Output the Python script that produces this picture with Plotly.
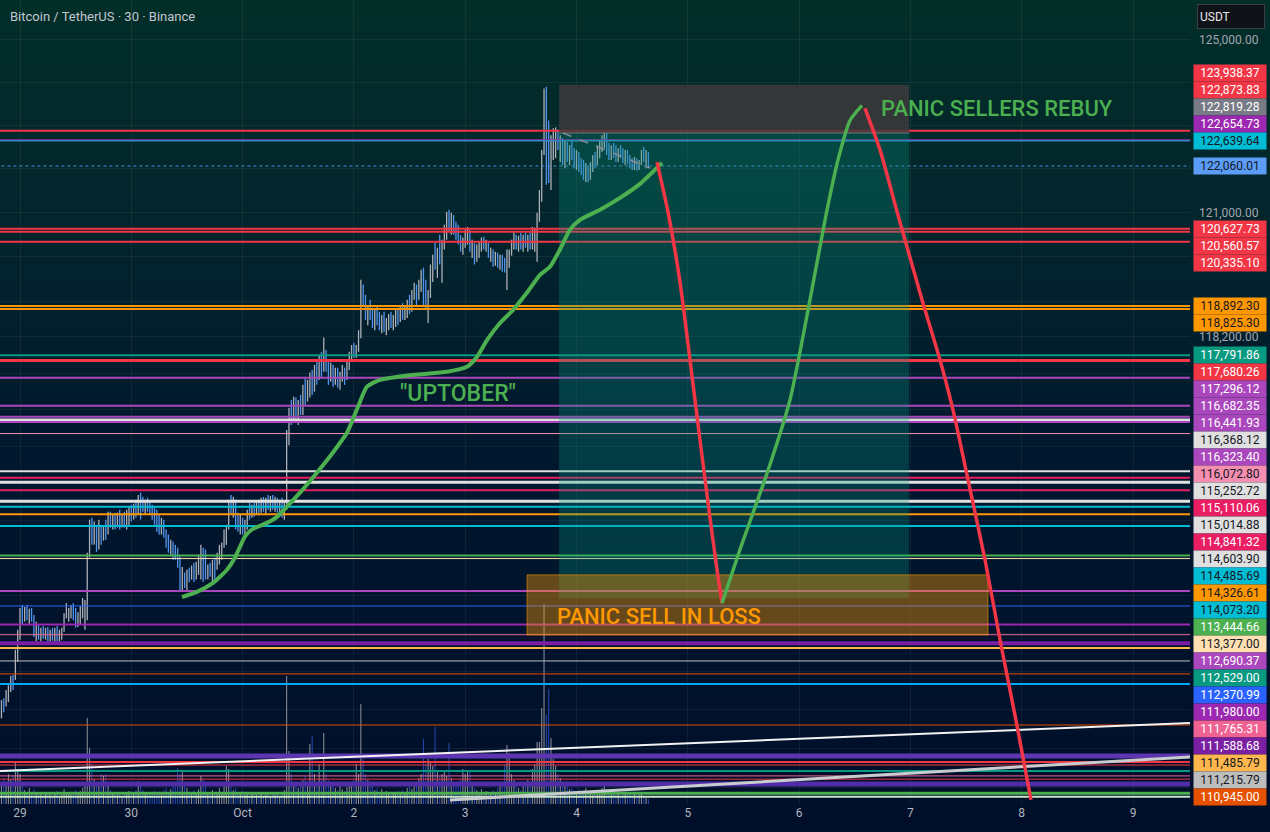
import math
import pandas as pd
import plotly.graph_objects as go

# ---------------- time helpers ----------------
T0 = pd.Timestamp("2025-09-29 00:00")


def at(d):
    return T0 + pd.Timedelta(days=float(d))


# ---------------- candles (30 min, BTCUSDT) ----------------
candle_start = "2025-09-28 20:00"
first_open = 110100
highs = [
    110400, 110440, 110610, 110710, 110900, 110920, 111450, 111870, 112330, 112390,
    112350, 112390, 112310, 112330, 112180, 112040, 111970, 111910, 111950, 111910,
    111930, 111870, 111910, 111910, 111950, 111870, 111910, 112220, 112430, 112330,
    112390, 112430, 112330, 112240, 112370, 112540, 112500, 113500, 114210, 114250,
    114170, 114100, 114210, 114100, 114060, 114210, 114380, 114380, 114320, 114360,
    114360, 114420, 114320, 114380, 114420, 114490, 114530, 114550, 114640, 114740,
    114790, 114700, 114640, 114680, 114590, 114530, 114470, 114420, 114320, 114250,
    114210, 114000, 113890, 113780, 113740, 113670, 113610, 113420, 113200, 113080,
    113140, 113180, 113230, 113290, 113310, 113460, 113670, 113610, 113570, 113250,
    113290, 113350, 113400, 113500, 113670, 113720, 114000, 114100, 114640, 114740,
    114700, 114640, 114360, 114320, 114250, 114210, 114420, 114570, 114530, 114570,
    114590, 114640, 114680, 114700, 114680, 114740, 114720, 114740, 114700, 114680,
    114640, 114680, 114590, 116150, 116640, 116810, 116880, 116860, 116810, 116920,
    117140, 117300, 117250, 117410, 117470, 117580, 117690, 117800, 117870, 118190,
    117910, 117690, 117630, 117580, 117520, 117520, 117430, 117580, 117520, 117650,
    117870, 118020, 118070, 118020, 118350, 119480, 119370, 119140, 118910, 119030,
    118850, 118800, 118910, 118760, 118690, 118760, 118620, 118710, 118760, 118690,
    118800, 118850, 118910, 118960, 118910, 119030, 119140, 119250, 119410, 119370,
    119480, 119700, 119750, 119480, 119250, 119820, 120040, 120310, 120200, 120490,
    120380, 120720, 121010, 121060, 120990, 120940, 120790, 120720, 120490, 120430,
    120610, 120670, 120610, 120380, 120310, 120270, 120340, 120430, 120450, 120380,
    120310, 120200, 120160, 120110, 120090, 120040, 120040, 119970, 120160, 120160,
    120380, 120540, 120490, 120470, 120540, 120490, 120540, 120490, 120540, 120670,
    120650, 120990, 121510, 122430, 123850, 123890, 123110, 122770, 122930, 122950,
    122880, 122770, 122700, 122650, 122610, 122540, 122650, 122470, 122430, 122380,
    122240, 122200, 122130, 122080, 122150, 122310, 122380, 122540, 122650, 122770,
    122840, 122820, 122590, 122540, 122590, 122540, 122470, 122540, 122470, 122430,
    122430, 122310, 122240, 122270, 122240, 122200, 122430, 122500, 122430, 122380,
]
lows = [
    110020, 110150, 110270, 110360, 110570, 110610, 110820, 111200, 111660, 111970,
    112040, 112070, 111990, 112040, 111720, 111620, 111660, 111620, 111680, 111660,
    111620, 111620, 111640, 111620, 111620, 111620, 111660, 111830, 112110, 112040,
    112110, 112070, 111910, 111930, 111970, 112110, 111870, 112070, 113400, 113670,
    113670, 113520, 113570, 113670, 113760, 113780, 113890, 114040, 114000, 114000,
    114040, 114000, 114040, 114040, 114000, 114060, 114170, 114210, 114250, 114320,
    114210, 114380, 114320, 114380, 114320, 114210, 114100, 113950, 113890, 113890,
    113820, 113610, 113500, 113460, 113350, 113350, 113180, 112710, 112670, 112750,
    112710, 112880, 112930, 112880, 112930, 113030, 112930, 112880, 112930, 112930,
    112990, 112820, 112880, 113140, 113250, 113350, 113610, 113670, 114000, 114320,
    114250, 114000, 113950, 113890, 113890, 113890, 114000, 114210, 114250, 114270,
    114320, 114300, 114360, 114380, 114320, 114420, 114380, 114420, 114380, 114360,
    114320, 114250, 114210, 114420, 115820, 116260, 116330, 116370, 116260, 116480,
    116480, 116700, 116770, 116860, 116920, 116990, 117140, 117250, 117300, 117430,
    117430, 117140, 117210, 117100, 117140, 117080, 117030, 117210, 117140, 117250,
    117470, 117690, 117740, 117740, 117870, 118170, 118910, 118580, 118460, 118580,
    118400, 118350, 118460, 118350, 118280, 118310, 118240, 118350, 118400, 118350,
    118420, 118460, 118530, 118580, 118580, 118620, 118710, 118760, 119030, 118910,
    119030, 119210, 118910, 118800, 118510, 119070, 119430, 119700, 119520, 119820,
    119410, 120160, 120380, 120560, 120490, 120490, 120380, 120270, 120110, 120040,
    120200, 120270, 120110, 119970, 119820, 119880, 119970, 120110, 120160, 120110,
    119970, 119880, 119770, 119790, 119750, 119700, 119660, 119640, 119250, 119750,
    120020, 120160, 120160, 120110, 120160, 120110, 120200, 120110, 120160, 120160,
    120110, 119880, 120790, 121240, 122310, 121630, 121670, 121510, 122200, 122240,
    122430, 122150, 122080, 122010, 122150, 122080, 122200, 122010, 121970, 121920,
    121850, 121740, 121690, 121690, 121740, 121920, 122010, 122080, 122240, 122380,
    122470, 122310, 122200, 122200, 122240, 122150, 122150, 122240, 122130, 122080,
    122110, 122010, 121970, 121970, 121950, 121970, 122080, 122150, 122010, 122010,
]
closes = [
    110340, 110230, 110570, 110610, 110820, 110710, 111340, 111760, 112240, 112070,
    112280, 112180, 112240, 112090, 111810, 111930, 111720, 111870, 111810, 111870,
    111700, 111830, 111660, 111870, 111700, 111780, 111850, 112160, 112240, 112260,
    112310, 112200, 111990, 112160, 112330, 112410, 112460, 113400, 114100, 113780,
    114040, 113670, 114060, 113780, 113950, 113890, 114300, 114170, 114250, 114100,
    114270, 114170, 114230, 114100, 114340, 114420, 114250, 114490, 114380, 114680,
    114530, 114470, 114550, 114510, 114420, 114320, 114210, 114170, 114000, 114120,
    113910, 113780, 113570, 113670, 113440, 113400, 113250, 112800, 113030, 112820,
    113100, 113030, 113140, 112970, 113250, 113350, 113570, 113030, 112970, 113180,
    113100, 113290, 113230, 113440, 113610, 113670, 113930, 114040, 114530, 114420,
    114590, 114100, 114040, 114210, 114000, 114120, 114380, 114320, 114470, 114380,
    114510, 114380, 114590, 114470, 114640, 114530, 114660, 114490, 114640, 114420,
    114570, 114340, 114510, 116040, 116480, 116370, 116700, 116550, 116720, 116590,
    117030, 116860, 117140, 117300, 117030, 117470, 117300, 117650, 117470, 118020,
    117520, 117250, 117470, 117190, 117430, 117140, 117300, 117520, 117250, 117580,
    117800, 117910, 117820, 117960, 118240, 119250, 119030, 118690, 118800, 118620,
    118530, 118710, 118580, 118440, 118620, 118400, 118530, 118640, 118460, 118620,
    118710, 118580, 118820, 118670, 118870, 118940, 118800, 119140, 119300, 119030,
    119370, 119590, 119030, 118910, 119140, 119700, 119970, 119820, 120110, 119930,
    120270, 120610, 120880, 120720, 120880, 120610, 120490, 120380, 120160, 120340,
    120490, 120610, 120200, 120290, 119930, 120160, 120250, 120380, 120220, 120310,
    120040, 120110, 119860, 120020, 119820, 119970, 119750, 119700, 120040, 120090,
    120270, 120430, 120270, 120380, 120250, 120430, 120310, 120380, 120220, 120270,
    120560, 120880, 121400, 122360, 123690, 122200, 121970, 122540, 122650, 122770,
    122540, 122650, 122200, 122540, 122240, 122430, 122310, 122150, 122310, 122010,
    121920, 121830, 122010, 121790, 122080, 122240, 122150, 122470, 122540, 122650,
    122750, 122430, 122310, 122470, 122360, 122240, 122430, 122310, 122200, 122380,
    122150, 122080, 122040, 122200, 122010, 122150, 122380, 122200, 122310, 122060.01,
]
volumes = [
    500, 650, 550, 750, 625, 700, 1075, 875, 750, 450,
    350, 300, 400, 250, 375, 300, 225, 275, 200, 250,
    300, 225, 175, 250, 325, 200, 225, 375, 300, 250,
    225, 300, 350, 250, 325, 400, 550, 2150, 1400, 1000,
    625, 500, 450, 750, 700, 750, 450, 350, 300, 250,
    225, 275, 200, 300, 250, 325, 225, 275, 350, 575,
    450, 350, 250, 300, 225, 275, 325, 250, 300, 225,
    350, 400, 300, 375, 500, 450, 900, 750, 850, 550,
    400, 300, 250, 350, 300, 375, 700, 650, 550, 300,
    250, 350, 300, 250, 400, 300, 550, 950, 875, 500,
    350, 400, 300, 250, 325, 225, 275, 200, 250, 300,
    225, 200, 275, 175, 225, 250, 200, 300, 225, 250,
    200, 275, 350, 3200, 1325, 750, 550, 450, 400, 500,
    600, 700, 550, 1500, 1700, 750, 550, 1000, 650, 1775,
    750, 600, 450, 500, 400, 350, 450, 375, 325, 425,
    550, 450, 600, 1000, 750, 2500, 1125, 750, 600, 500,
    450, 350, 400, 300, 375, 250, 325, 275, 225, 300,
    250, 325, 275, 350, 300, 400, 450, 375, 500, 550,
    650, 750, 1625, 1000, 1125, 1050, 950, 1925, 800, 700,
    750, 850, 700, 1525, 650, 550, 450, 500, 625, 875,
    750, 800, 850, 450, 400, 350, 300, 375, 275, 325,
    300, 250, 350, 275, 400, 450, 550, 1000, 1475, 1275,
    750, 600, 450, 400, 350, 450, 500, 600, 550, 875,
    1000, 1550, 1550, 2400, 5000, 2225, 2875, 1650, 1125, 950,
    750, 650, 550, 500, 450, 375, 400, 350, 300, 375,
    325, 300, 400, 250, 300, 225, 275, 350, 300, 400,
    450, 375, 300, 250, 325, 225, 275, 200, 250, 300,
    225, 275, 200, 250, 175, 225, 275, 200, 150, 125,
]

# ---------------- horizontal levels (with price-scale labels) ----------------
level_prices = [122873.83, 122654.73, 122639.64, 120627.73, 120560.57, 120335.10,
                118892.30, 118825.30, 117791.86, 117680.26, 117296.12, 116682.35,
                116441.93, 116368.12, 116323.40, 116072.80, 115252.72, 115110.06,
                115014.88, 114841.32, 114603.90, 114485.69, 114326.61, 114073.20,
                113444.66, 113377.00, 112690.37, 112370.99, 111980.00, 111765.31,
                111588.68, 111485.79, 111215.79, 110945.00]
level_colors = ["#f23645", "#9c27b0", "#00bcd4", "#f23645", "#f23645", "#f23645",
                "#ff9800", "#ff9800", "#089981", "#f23645", "#ab47bc", "#ab47bc",
                "#ab47bc", "#e0e0e0", "#ab47bc", "#f48fb1", "#e0e0e0", "#e91e63",
                "#e0e0e0", "#e91e63", "#e0e0e0", "#00bcd4", "#ff9800", "#00bcd4",
                "#4caf50", "#ffe0b2", "#ab47bc", "#2962ff", "#9c27b0", "#f06292",
                "#7b1fa2", "#ffb74d", "#bdbdbd", "#e65100"]
level_widths = [2, 2, 1, 2, 2, 2,
                2, 2, 2, 3, 2, 2,
                2, 3, 2, 1, 2, 2,
                3, 2, 3, 2, 2, 2,
                2, 1, 2, 1, 2, 1,
                4, 2, 1, 1]

# unlabeled levels near the bottom of the pane
extra_prices = [110735, 109885, 109247, 109122, 109061, 108938, 108838, 108772, 108672, 108486, 108411]
extra_colors = ["#03a9f4", "#e65100", "#5e35b1", "#f23645", "#f23645", "#089981",
                "#f06292", "#f23645", "#512da8", "#4caf50", "#c8e6c9"]
extra_widths = [2, 1, 5, 2, 1, 2, 1, 1, 5, 3, 2]

# price-scale labels
label_prices = [123938.37, 122873.83, 122819.28, 122654.73, 122639.64, 122060.01,
                120627.73, 120560.57, 120335.10, 118892.30, 118825.30, 117791.86,
                117680.26, 117296.12, 116682.35, 116441.93, 116368.12, 116323.40,
                116072.80, 115252.72, 115110.06, 115014.88, 114841.32, 114603.90,
                114485.69, 114326.61, 114073.20, 113444.66, 113377.00, 112690.37,
                112529.00, 112370.99, 111980.00, 111765.31, 111588.68, 111485.79,
                111215.79, 110945.00]
label_bg = ["#f23645", "#f23645", "#787b86", "#9c27b0", "#00bcd4", "#5b9cf6",
            "#f23645", "#f23645", "#f23645", "#ff9800", "#ff9800", "#089981",
            "#f23645", "#ab47bc", "#ab47bc", "#ab47bc", "#e0e0e0", "#ab47bc",
            "#f48fb1", "#e0e0e0", "#e91e63", "#e0e0e0", "#e91e63", "#e0e0e0",
            "#00bcd4", "#ff9800", "#00bcd4", "#4caf50", "#ffe0b2", "#ab47bc",
            "#089981", "#2962ff", "#9c27b0", "#f06292", "#7b1fa2", "#ffb74d",
            "#bdbdbd", "#e65100"]
dark_text_bg = {"#00bcd4", "#5b9cf6", "#ff9800", "#e0e0e0", "#f48fb1", "#ffe0b2",
                "#ffb74d", "#bdbdbd"}
current_price = 122060.01

# price axis ticks (gridlines)
grid_prices = [108600, 109400, 110200, 111000, 111800, 112600, 113400, 114200, 115000,
               115800, 116600, 117400, 118200, 119000, 120000, 121000, 122000, 123000,
               124000, 125000]
shown_ticks = {125000: "125,000.00", 121000: "121,000.00", 118200: "118,200.00"}
day_ticks = list(range(0, 11))
day_text = ["29", "30", "Oct", "2", "3", "4", "5", "6", "7", "8", "9"]

# ---------------- drawings ----------------
# short position tool
pos_days = [4.8428, 7.9874]
pos_entry, pos_stop, pos_target = 122819.28, 123938.37, 112529.00
trace_days = [4.8787, 5.6604]
trace_prices = [122819, 122014]
# orange zone
zone_days = [4.5553, 8.6972]
zone_prices = [113030, 111760]

uptober_days = [1.4555, 1.5903, 1.7341, 1.8598, 1.9317, 1.9766, 2.0216, 2.0845, 2.2192,
                2.3091, 2.3989, 2.5157, 2.6325, 2.7583, 2.8482, 2.9380, 3.0369, 3.1177,
                3.2345, 3.5310, 3.8365, 4.0162, 4.1060, 4.1959, 4.3127, 4.4295, 4.5553,
                4.6721, 4.7619, 4.8518, 4.9416, 5.0314, 5.2111, 5.3908, 5.5705, 5.7682]
uptober_prices = [112560, 112670, 112860, 113140, 113400, 113630, 113850, 114000, 114140,
                  114270, 114490, 114790, 115120, 115490, 115780, 116090, 116660, 117100,
                  117250, 117360, 117430, 117540, 117760, 118130, 118510, 118800, 119190,
                  119590, 119770, 120160, 120610, 120830, 121060, 121330, 121650, 122130]
drop1_days = [5.7233, 5.8221, 5.9299, 6.0198, 6.1096, 6.1995, 6.2624, 6.3073]
drop1_prices = [122150, 121010, 119430, 117690, 115930, 114250, 113140, 112430]
rebuy_days = [6.3073, 6.4690, 6.7206, 6.9182, 7.0979, 7.2417, 7.3495, 7.4573, 7.5651]
rebuy_prices = [112430, 113570, 115270, 116810, 119030, 120940, 122200, 123110, 123460]
drop2_days = [7.5921, 7.7269, 7.8886, 8.1042, 8.2659, 8.3827, 8.5175, 8.6703, 8.8050,
              8.9488, 9.0836]
drop2_prices = [123390, 122430, 120940, 119030, 117690, 116590, 115070, 113350, 111660,
                109980, 108350]
diag1_days = [-0.1797, 10.5121]
diag1_prices = [108938, 109926]
diag2_days = [3.8634, 10.5121]
diag2_prices = [108347, 109227]

# ---------------- layout constants ----------------
W, Hfig = 1270, 832
ML, MR, MT, MB = 0, 80, 0, 28
PW, PH = W - ML - MR, Hfig - MT - MB
PRICE_TOP, PRICE_BOT = 125929, 108265
LO, HI = math.log10(PRICE_BOT), math.log10(PRICE_TOP)
X_RANGE = [at(-0.1797), at(10.5121)]
UP, DN = "#aeb0b7", "#5295ee"
FONT = "Roboto"

times = pd.date_range(candle_start, periods=len(closes), freq="30min")
opens = [first_open] + closes[:-1]
is_up = [c >= o for o, c in zip(opens, closes)]

fig = go.Figure()

# background gradient bands (paper)
stops = [(0, (2, 46, 40)), (200, (3, 38, 44)), (450, (1, 24, 46)), (832, (0, 14, 42))]


def grad(y):
    for (y0, c0), (y1, c1) in zip(stops[:-1], stops[1:]):
        if y0 <= y <= y1:
            t = (y - y0) / (y1 - y0)
            return tuple(round(a + (b - a) * t) for a, b in zip(c0, c1))
    return stops[-1][1]


nb = 52
for k in range(nb):
    ya = Hfig * k / nb
    yb = Hfig * (k + 1) / nb
    c = grad((ya + yb) / 2)
    fig.add_shape(type="rect", xref="paper", yref="paper", x0=0, x1=W / PW,
                  y0=1 - (yb - MT) / PH - 0.001, y1=1 - (ya - MT) / PH + 0.001,
                  fillcolor="rgb(%d,%d,%d)" % c, line_width=0, layer="below")

# volume (base axis)
fig.add_trace(go.Bar(x=times, y=volumes, yaxis="y", xaxis="x",
                     marker=dict(color=["rgba(175,175,180,0.8)" if u else "rgba(41,82,200,0.85)" for u in is_up],
                                 line_width=0),
                     width=800000, hoverinfo="skip"))

# candles
fig.add_trace(go.Ohlc(x=times, open=opens, high=highs, low=lows, close=closes,
                      xaxis="x", yaxis="y2", tickwidth=0,
                      increasing=dict(line=dict(color=UP, width=1.3)),
                      decreasing=dict(line=dict(color=DN, width=1.3)),
                      hoverinfo="skip"))

far = [at(-2), at(13)]


def hline(p, color, width, dash="solid"):
    fig.add_trace(go.Scatter(x=far, y=[p, p], mode="lines", yaxis="y2",
                             line=dict(color=color, width=width, dash=dash), hoverinfo="skip"))


for p, c, w in zip(extra_prices, extra_colors, extra_widths):
    hline(p, c, w)
for p, c, w in zip(level_prices, level_colors, level_widths):
    hline(p, c, w)
hline(current_price, "#4a8fe0", 1, "dot")

# diagonal lines at bottom
fig.add_trace(go.Scatter(x=[at(d) for d in diag1_days], y=diag1_prices, mode="lines", yaxis="y2",
                         line=dict(color="#f2f2f2", width=2), hoverinfo="skip"))
fig.add_trace(go.Scatter(x=[at(d) for d in diag2_days], y=diag2_prices, mode="lines", yaxis="y2",
                         line=dict(color="#c9cccf", width=3), hoverinfo="skip"))


def box(days, p0, p1, fill, line_color=None, lw=0):
    xs = [at(days[0]), at(days[1]), at(days[1]), at(days[0]), at(days[0])]
    ys = [p0, p0, p1, p1, p0]
    fig.add_trace(go.Scatter(x=xs, y=ys, mode="lines", fill="toself", fillcolor=fill, yaxis="y2",
                             line=dict(color=line_color or "rgba(0,0,0,0)", width=lw),
                             hoverinfo="skip"))


box(pos_days, pos_entry, pos_target, "rgba(8,153,129,0.28)")
box(pos_days, pos_stop, pos_entry, "rgba(62,58,58,0.82)")
fig.add_trace(go.Scatter(x=[at(d) for d in pos_days], y=[pos_entry, pos_entry], mode="lines", yaxis="y2",
                         line=dict(color="#787b86", width=1), hoverinfo="skip"))
fig.add_trace(go.Scatter(x=[at(d) for d in trace_days], y=trace_prices, mode="lines", yaxis="y2",
                         line=dict(color="#8a8d96", width=1.5, dash="dash"), hoverinfo="skip"))
box(zone_days, zone_prices[0], zone_prices[1], "rgba(255,152,0,0.40)", "rgba(255,152,0,0.55)", 1)


def stroke(days, prices, color, width):
    fig.add_trace(go.Scatter(x=[at(d) for d in days], y=prices, mode="lines", yaxis="y2",
                             line=dict(color=color, width=width, shape="spline", smoothing=0.6),
                             hoverinfo="skip"))


stroke(uptober_days, uptober_prices, "#4caf50", 4)
stroke(drop1_days, drop1_prices, "#f23645", 3.5)
stroke(rebuy_days, rebuy_prices, "#4caf50", 3.5)
stroke(drop2_days, drop2_prices, "#f23645", 3.5)

annotations = []
# drawing texts
annotations.append(dict(x=at(7.7179), y=math.log10(123388), xref="x", yref="y2", text="PANIC SELLERS REBUY",
                        showarrow=False, xanchor="left", yanchor="middle",
                        font=dict(family=FONT, size=22, color="#4caf50", weight=500)))
annotations.append(dict(x=at(4.8068), y=math.log10(112155), xref="x", yref="y2", text="PANIC SELL IN LOSS",
                        showarrow=False, xanchor="left", yanchor="middle",
                        font=dict(family=FONT, size=22, color="#ff9800", weight=500)))
annotations.append(dict(x=at(3.3962), y=math.log10(116944), xref="x", yref="y2", text="\"UPTOBER\"",
                        showarrow=False, xanchor="left", yanchor="middle",
                        font=dict(family=FONT, size=23, color="#4caf50", weight=500)))

# title
annotations.append(dict(x=8 / PW, y=1 - 16 / PH, xref="paper", yref="paper",
                        text="Bitcoin / TetherUS · 30 · Binance", showarrow=False,
                        xanchor="left", yanchor="middle", font=dict(family=FONT, size=13, color="#c3c7cf")))
# currency box
annotations.append(dict(x=1231 / PW, y=1 - 16 / PH, xref="paper", yref="paper", text="USDT",
                        showarrow=False, xanchor="center", yanchor="middle", width=62, height=19,
                        bgcolor="#0f1216", bordercolor="#3a3e47", borderwidth=1, borderpad=2, align="left",
                        font=dict(family=FONT, size=12, color="#e6e8ec")))


# price labels with stacking
def pix(p):
    return (HI - math.log10(p)) / (HI - LO) * PH


LH = 17
pos = {}
pos[current_price] = pix(current_price)
last = pos[current_price]
for p in sorted([q for q in label_prices if q > current_price]):
    y = min(pix(p), last - LH)
    pos[p] = y
    last = y
last = pos[current_price]
for p in sorted([q for q in label_prices if q < current_price], reverse=True):
    y = max(pix(p), last + LH)
    pos[p] = y
    last = y

for p, bg in zip(label_prices, label_bg):
    annotations.append(dict(x=1193 / PW, y=1 - pos[p] / PH, xref="paper", yref="paper",
                            text=f"{p:,.2f}", showarrow=False, xanchor="left", yanchor="middle",
                            width=70, height=14, borderpad=1, bgcolor=bg, align="center",
                            font=dict(family=FONT, size=12,
                                      color="#131722" if bg in dark_text_bg else "#ffffff")))

fig.update_layout(
    width=W, height=Hfig, margin=dict(l=ML, r=MR, t=MT, b=MB),
    paper_bgcolor="#011a2c", plot_bgcolor="rgba(0,0,0,0)", showlegend=False,
    annotations=annotations, hovermode=False,
    xaxis=dict(type="date", range=X_RANGE, tickvals=[at(d) for d in day_ticks], ticktext=day_text,
               showgrid=True, gridcolor="rgba(255,255,255,0.06)", gridwidth=1, zeroline=False,
               showline=False, ticks="", tickfont=dict(family=FONT, size=12, color="#b2b5be"),
               rangeslider=dict(visible=False), fixedrange=True),
    yaxis=dict(range=[0, 20100], visible=False, showgrid=False, fixedrange=True),
    yaxis2=dict(type="log", overlaying="y", side="right", anchor="x", range=[LO, HI],
                tickvals=grid_prices, ticktext=[shown_ticks.get(g, "") for g in grid_prices],
                showgrid=True, gridcolor="rgba(255,255,255,0.06)", gridwidth=1, zeroline=False,
                showline=False, ticks="", ticklabelstandoff=8,
                tickfont=dict(family=FONT, size=12, color="#a3a6af"), fixedrange=True),
)

fig.write_html("out.html")
